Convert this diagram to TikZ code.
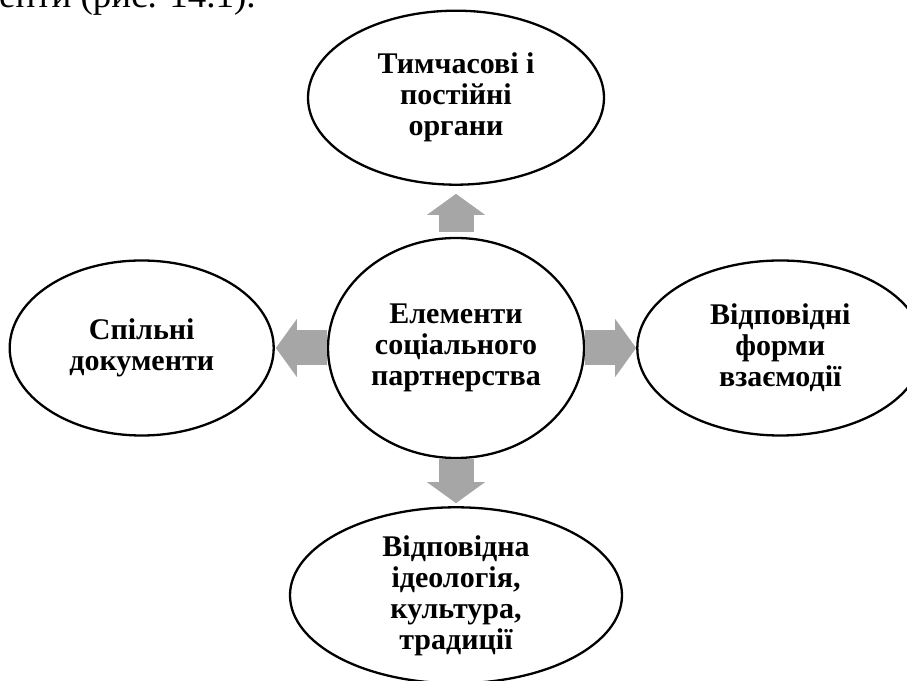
\documentclass[tikz,border=0pt]{standalone}
\usepackage{fontspec}
\setmainfont{Liberation Serif}
\usetikzlibrary{shapes.geometric,arrows.meta,positioning}
\definecolor{arrowgray}{RGB}{166,166,166}

\begin{document}
\begin{tikzpicture}[auto, node distance=51pt,
		part node/.style={ellipse,draw,line width=2.3pt,inner sep=0pt,align=center,
			font=\fontsize{30}{31}\selectfont\bfseries},
		block/.style={draw=arrowgray,line width=35pt,
			-{Triangle[length=21pt,width=58pt,line width=0pt]}}]
		
		\clip (0,0) rectangle (907pt,680pt);
		\node[anchor=base west,inner sep=0pt,font=\fontsize{37}{40}\selectfont] (text) at (-1pt,672pt) {енти (рис. 14.1).};
		
		\node[part node,minimum width=256pt,minimum height=220pt] (mid) at (456pt,332pt) {Елементи\\соціального\\партнерства};
		\node[part node,minimum width=296pt,minimum height=174pt] (organy) [above=51pt of mid] {Тимчасові і\\постійні\\органи};
		\node[part node,minimum width=264pt,minimum height=175pt] (docs) [left=52pt of mid] {Спільні\\документи};
		\node[part node,minimum width=286pt,minimum height=175pt] (forms) [right=51pt of mid] {Відповідні\\форми\\взаємодії};
		\node[part node,minimum width=332pt,minimum height=176pt] (ideology) [below=47pt of mid] {Відповідна\\ідеологія,\\культура,\\традиції};
		
		\path
		(mid) edge [block, shorten <=5pt, shorten >=8pt] (organy)
		edge [block, shorten >=1pt] (docs)
		edge [block] (forms)
		edge [block, shorten >=3pt] (ideology);
		\end{tikzpicture}
\end{document}
